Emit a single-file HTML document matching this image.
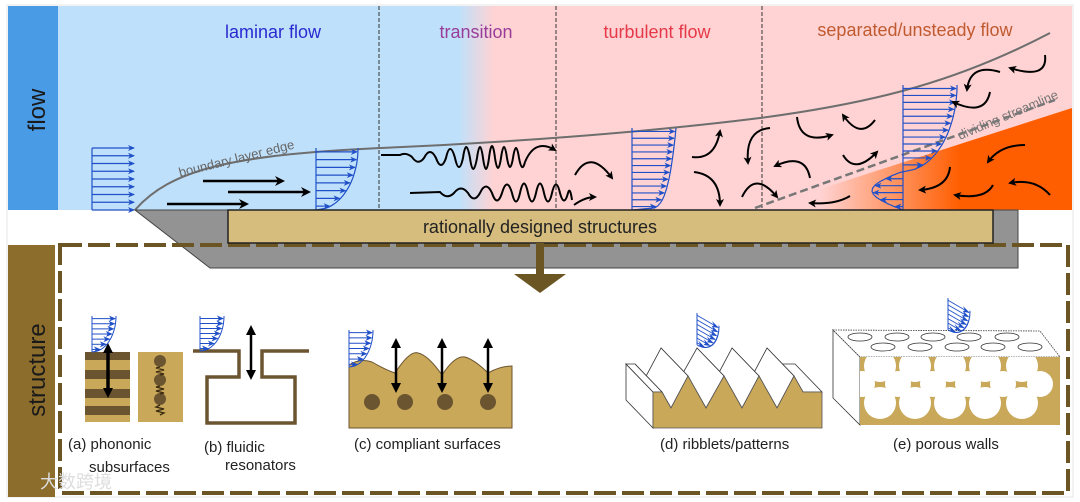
<!DOCTYPE html>
<html><head><meta charset="utf-8"><style>
html,body{margin:0;padding:0;background:#fff;}
svg{display:block;font-family:"Liberation Sans",Arial,sans-serif;}
</style></head><body>
<svg id="s" width="1080" height="502" viewBox="0 0 1080 502" xmlns="http://www.w3.org/2000/svg">
<defs>
<linearGradient id="bg" x1="0" x2="1" y1="0" y2="0">
<stop offset="0" stop-color="#bfe0fb"/><stop offset="0.395" stop-color="#bfe0fb"/><stop offset="0.43" stop-color="#ffd3d3"/><stop offset="1" stop-color="#ffd3d3"/>
</linearGradient>
<linearGradient id="or" gradientUnits="userSpaceOnUse" x1="820" y1="0" x2="960" y2="0">
<stop offset="0" stop-color="#ffd3d3"/><stop offset="1" stop-color="#ff5e00"/>
</linearGradient>
<marker id="ab" markerWidth="8" markerHeight="8" refX="6" refY="4" orient="auto" markerUnits="userSpaceOnUse"><path d="M0,0 L8,4 L0,8 L2,4Z" fill="#000"/></marker>
<marker id="ab2" markerWidth="10" markerHeight="10" refX="7" refY="5" orient="auto" markerUnits="userSpaceOnUse"><path d="M0,0 L10,5 L0,10 L3,5Z" fill="#000"/></marker>
<marker id="bl" markerWidth="7" markerHeight="6" refX="6" refY="3" orient="auto" markerUnits="userSpaceOnUse"><path d="M0,0 L7,3 L0,6 L2,3Z" fill="#2050c8"/></marker>
<marker id="da" markerWidth="10" markerHeight="10" refX="5" refY="5" orient="auto-start-reverse" markerUnits="userSpaceOnUse"><path d="M0,0 L10,5 L0,10Z" fill="#000"/></marker>
<clipPath id="pc"><rect x="860" y="357" width="200" height="68"/></clipPath>
</defs>
<rect x="7" y="5" width="1066" height="492" fill="#fff" stroke="#e4e4e4"/>
<!-- flow section -->
<rect x="8" y="6" width="50" height="204" fill="#4a9be6"/>
<text transform="translate(45,110) rotate(-90)" font-size="24" fill="#1a1a1a" text-anchor="middle">flow</text>
<rect x="58" y="6" width="1014" height="204" fill="url(#bg)"/>
<polygon points="755,210 1072,108 1072,210" fill="url(#or)"/>
<g stroke="#333" stroke-width="1" stroke-dasharray="4,2">
<line x1="379" y1="6" x2="379" y2="210"/><line x1="556" y1="6" x2="556" y2="210"/><line x1="762" y1="6" x2="762" y2="210"/>
</g>
<text x="273" y="38" font-size="18" fill="#2a2ad0" text-anchor="middle">laminar flow</text>
<text x="476" y="38" font-size="18" fill="#9a3d9a" text-anchor="middle">transition</text>
<text x="657" y="38" font-size="18" fill="#e53848" text-anchor="middle">turbulent flow</text>
<text x="915" y="36" font-size="18" fill="#c05a30" text-anchor="middle">separated/unsteady flow</text>
<!-- boundary layer edge -->
<path d="M135,210 C170,170 230,155 380,148 C500,143 640,133 760,118 C880,102 960,80 1050,33" fill="none" stroke="#6e6e6e" stroke-width="2"/>
<text transform="translate(180,177) rotate(-14)" font-size="13" fill="#666">boundary layer edge</text>
<path d="M755,208 L1055,100" stroke="#777" stroke-width="2.5" stroke-dasharray="8,4" fill="none"/>
<text transform="translate(960,140) rotate(-23)" font-size="13" fill="#777">dividing streamline</text>
<!-- laminar arrows -->
<g stroke="#000" stroke-width="2.5" fill="none" marker-end="url(#ab2)">
<line x1="167" y1="204" x2="246" y2="204"/><line x1="203" y1="181" x2="282" y2="181"/><line x1="228" y1="192" x2="308" y2="192"/>
</g>
<g id="prof" stroke="#2050c8" stroke-width="1.2" fill="none"></g>
<!-- waves -->
<g stroke="#000" stroke-width="2" fill="none">
<path d="M381,155 L400,155 Q406,152 412,157 Q418,166 424,158 Q430,146 436,158 Q441,172 446,158 Q450,140 455,158 Q459,176 463,158 Q466,136 470,158 Q473,180 477,158 Q480,136 483,158 Q486,180 489,158 Q492,134 495,158 Q498,178 501,158 Q504,136 507,158 Q510,176 513,158 Q516,138 519,158 Q522,174 525,162"/>
<path d="M525,162 Q535,138 555,150" marker-end="url(#ab)"/>
<path d="M410,193 L440,192 Q447,200 454,193 Q461,184 468,193 Q474,204 480,193 Q486,180 492,193 Q497,208 502,193 Q507,176 512,193 Q516,210 520,193 Q524,174 528,193 Q532,210 536,193 Q540,174 544,193 Q548,210 552,193 Q556,176 560,193 Q564,208 568,193 Q570,186 572,200"/>
</g>
<!-- swirls -->
<g stroke="#000" stroke-width="2" fill="none" marker-end="url(#ab)">
<path d="M575,175 Q590,148 612,178"/>
<path d="M574,205 Q585,197 595,197"/>
<path d="M692,157 Q715,160 720,131"/>
<path d="M694,172 Q720,175 720,205"/>
<path d="M770,128 Q745,130 748,163"/>
<path d="M742,197 Q755,170 777,197"/>
<path d="M810,178 Q805,152 775,166"/>
<path d="M797,117 Q800,145 832,135"/>
<path d="M875,120 Q860,140 843,115"/>
<path d="M843,155 Q855,175 877,152"/>
<path d="M850,196 Q835,205 810,203"/>
<path d="M990,92 Q985,117 953,102"/>
<path d="M1000,72 Q970,63 967,90"/>
<path d="M1045,55 Q1048,80 1010,68"/>
<path d="M1025,145 Q1000,145 988,162"/>
<path d="M950,167 Q948,188 920,190"/>
<path d="M993,185 Q985,200 955,195"/>
<path d="M1050,195 Q1035,178 1010,183"/>
</g>
<!-- structure section -->
<rect x="8" y="245" width="47" height="252" fill="#8c6d2c"/>
<text transform="translate(45,370) rotate(-90)" font-size="24" fill="#1a1a1a" text-anchor="middle">structure</text>
<polygon points="135,210 1018,210 1018,268 210,268" fill="#939393" stroke="#444" stroke-width="1"/>
<rect x="60" y="245" width="1008" height="248" fill="none" stroke="#6b5522" stroke-width="4" stroke-dasharray="22,6"/>
<rect x="228" y="210" width="765" height="33" fill="#d7bd7d" stroke="#222" stroke-width="1.5"/>
<text x="540" y="233" font-size="18" fill="#222" text-anchor="middle">rationally designed structures</text>
<rect x="536" y="243" width="8" height="35" fill="#6b5522"/>
<polygon points="514,274 566,274 540,293" fill="#6b5522"/>
<!-- (a) -->
<rect x="85" y="352" width="45" height="70" fill="#c9a85a"/>
<g fill="#6b5530"><rect x="85" y="352" width="45" height="8"/><rect x="85" y="370" width="45" height="9"/><rect x="85" y="389" width="45" height="9"/><rect x="85" y="406" width="45" height="9"/></g>
<rect x="138" y="352" width="45" height="70" fill="#c9a85a"/>
<g fill="#6b5530"><circle cx="160" cy="361" r="6"/><circle cx="160" cy="380" r="6"/><circle cx="160" cy="399" r="6"/></g>
<path d="M160,367 l-4,1 l8,2 l-8,2 l8,2 l-4,1 M160,386 l-4,1 l8,2 l-8,2 l8,2 l-4,1 M160,405 l-4,2 l8,2 l-8,2 l8,2 l-4,2" stroke="#3a2a10" stroke-width="1.3" fill="none"/>
<line x1="108" y1="348" x2="108" y2="393" stroke="#000" stroke-width="3.5" marker-start="url(#da)" marker-end="url(#da)"/>
<!-- (b) -->
<path d="M193,351 H239 V377 H207 V423 H295 V377 H262 V351 H309" fill="none" stroke="#6b5530" stroke-width="3.5"/>
<line x1="251" y1="330" x2="251" y2="375" stroke="#000" stroke-width="2.5" marker-start="url(#da)" marker-end="url(#da)"/>
<!-- (c) -->
<path d="M349,365 Q360,358 372,362 Q386,370 395,373 Q410,350 418,353 Q428,355 442,375 Q455,355 465,357 Q475,360 488,373 Q500,366 512,366 V428 H349Z" fill="#c9a85a" stroke="#6b5530" stroke-width="1"/>
<g fill="#6b5530"><circle cx="372" cy="402" r="8"/><circle cx="405" cy="402" r="8"/><circle cx="445" cy="402" r="8"/><circle cx="488" cy="402" r="8"/></g>
<g stroke="#000" stroke-width="2.5" marker-start="url(#da)" marker-end="url(#da)">
<line x1="396" y1="343" x2="396" y2="388"/><line x1="442" y1="343" x2="442" y2="388"/><line x1="488" y1="343" x2="488" y2="388"/>
</g>
<!-- (d) ribblets -->
<g id="rib" stroke="#333" stroke-width="0.8" fill="#fff"></g>
<!-- (e) porous -->
<polygon points="833,330 860,357 860,425 833,398" fill="#fff" stroke="#333" stroke-width="0.8"/>
<polygon points="833,330 1040,331 1060,357 860,357" fill="#fff" stroke="#333" stroke-width="0.8" stroke-dasharray="1.5,1"/>
<g fill="none" stroke="#333" stroke-width="0.8">
<ellipse cx="860" cy="337" rx="12" ry="4"/><ellipse cx="897" cy="337" rx="12" ry="4"/><ellipse cx="933" cy="337" rx="12" ry="4"/><ellipse cx="969" cy="337" rx="12" ry="4"/><ellipse cx="1007" cy="337" rx="12" ry="4"/>
<ellipse cx="883" cy="347" rx="12" ry="4"/><ellipse cx="920" cy="347" rx="12" ry="4"/><ellipse cx="957" cy="347" rx="12" ry="4"/><ellipse cx="993" cy="347" rx="12" ry="4"/><ellipse cx="1030" cy="347" rx="12" ry="4"/>
</g>
<rect x="860" y="357" width="200" height="68" fill="#c9a85a"/>
<g clip-path="url(#pc)" fill="#fff">
<circle cx="880" cy="366" r="16"/><circle cx="915" cy="366" r="16"/><circle cx="950" cy="366" r="16"/><circle cx="985" cy="366" r="16"/><circle cx="1022" cy="366" r="16"/>
<circle cx="898" cy="384" r="13"/><circle cx="933" cy="384" r="13"/><circle cx="968" cy="384" r="13"/><circle cx="1003" cy="384" r="13"/><circle cx="1040" cy="384" r="13"/><circle cx="862" cy="384" r="13"/>
<circle cx="880" cy="403" r="16"/><circle cx="915" cy="403" r="16"/><circle cx="950" cy="403" r="16"/><circle cx="985" cy="403" r="16"/><circle cx="1022" cy="403" r="16"/>
</g>
<!-- labels -->
<g font-size="15" fill="#222">
<text x="68" y="449">(a) phononic</text><text x="89" y="472">subsurfaces</text>
<text x="204" y="452">(b) fluidic</text><text x="225" y="470">resonators</text>
<text x="354" y="449">(c) compliant surfaces</text>
<text x="660" y="449">(d) ribblets/patterns</text>
<text x="893" y="449">(e) porous walls</text>
</g>
<text x="40" y="488" font-size="18" fill="#ddd" font-family="'Liberation Sans','Noto Sans CJK SC',sans-serif">大数跨境</text>
</svg>
<script>
var NS="http://www.w3.org/2000/svg";
function el(p,t,a){var e=document.createElementNS(NS,t);for(var k in a)e.setAttribute(k,a[k]);p.appendChild(e);return e;}
var g=document.getElementById('prof');
function prof(x0,yb,h,n,f,parent,arr){
  parent=parent||g;
  el(parent,'line',{x1:x0,y1:yb,x2:x0,y2:yb-h});
  var d="";
  for(var i=0;i<=40;i++){var t=i/40;var y=yb-t*h;var x=x0+f(t);d+=(i?"L":"M")+x.toFixed(1)+","+y.toFixed(1);}
  el(parent,'path',{d:d});
  for(var j=0;j<n;j++){var t=(j+0.5)/n;var y=yb-t*h;var L=f(t);if(Math.abs(L)<3)continue;el(parent,'line',{x1:x0,y1:y,x2:x0+L-(L>0?1:-1),y2:y,'marker-end':arr===false?'':'url(#bl)'});}
}
(function(){var x0=92,yb=210,h=62;el(g,'line',{x1:x0,y1:yb,x2:x0,y2:yb-h});for(var j=0;j<9;j++){var y=yb-j*h/8;el(g,'line',{x1:x0,y1:y,x2:x0+42,y2:y,'marker-end':'url(#bl)'});}})();
prof(316,210,62,8,function(t){return 42*Math.sqrt(t*(2-t));});
prof(632,210,82,12,function(t){return 44*Math.pow(t,0.18);});
prof(903,210,125,18,function(t){if(t<0.31)return -31*Math.sin(Math.PI*t/0.31);var s=(t-0.31)/0.69;return 54*Math.sqrt(s*(2-s));});
function small(x0,yb,h,w,par,skew){var gg=el(document.getElementById('s'),'g',{stroke:'#2050c8','stroke-width':'1',fill:'none',transform:skew||''});prof(x0,yb,h,7,function(t){return w*Math.sqrt(t*(2-t));},gg);}
small(92,352,36,24);
small(200,351,35,24);
small(349,367,37,24);
small(0,0,32,22,null,'translate(697,345) skewY(30)');
small(0,0,32,22,null,'translate(948,330) skewY(30)');
var r=document.getElementById('rib');
var P=[[653,392],[662,392],[671,408],[688,376],[706,408],[724,376],[742,408],[759,376],[777,408],[794,376],[803,392],[822,392]];
var dx=-27,dy=-28;
el(r,'polygon',{points:"653,392 653,428 626,400 626,364"});
for(var i=P.length-2;i>=0;i--){var a=P[i],b=P[i+1];el(r,'polygon',{points:a[0]+","+a[1]+" "+b[0]+","+b[1]+" "+(b[0]+dx)+","+(b[1]+dy)+" "+(a[0]+dx)+","+(a[1]+dy)});}
var pts=P.map(function(p){return p.join(",")}).join(" ")+" 822,428 653,428";
el(r,'polygon',{points:pts,fill:'#c9a85a',stroke:'#555'});
</script>
</body></html>
